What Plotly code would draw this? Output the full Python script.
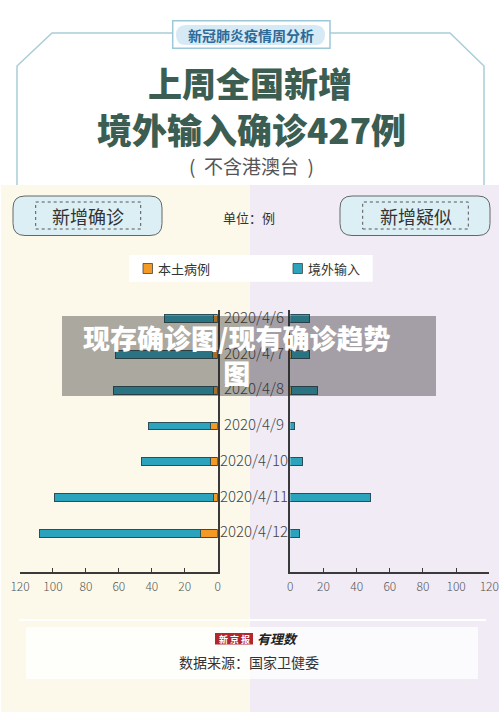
import plotly.graph_objects as go

# ---------------- data ----------------
dates = ["2020/4/6", "2020/4/7", "2020/4/8", "2020/4/9", "2020/4/10", "2020/4/11", "2020/4/12"]
confirmed_local = [2, 3, 2, 4, 4, 2, 10]
confirmed_imported = [30, 59, 61, 38, 42, 97, 98]
suspected_local = [0, 1, 1, 0, 0, 0, 0]
suspected_imported = [12, 11, 16, 3, 8, 49, 6]
tick_values = [0, 20, 40, 60, 80, 100, 120]
series_names = ["本土病例", "境外输入"]

W, H = 500, 712
CJK = "Noto Sans CJK SC"
ORANGE = "#f39a26"
TEAL = "#2ba3bc"
OUTLINE = "#2a4f58"


def px(x):
    return x / W


def py(y):
    return 1 - y / H


rows = list(range(len(dates)))

fig = go.Figure()

# left: confirmed (reversed axis)
fig.add_trace(go.Bar(y=rows, x=confirmed_local, orientation="h", name=series_names[0],
                     marker=dict(color=ORANGE, line=dict(color=OUTLINE, width=1)),
                     width=0.22, xaxis="x", yaxis="y", showlegend=False, hoverinfo="skip"))
fig.add_trace(go.Bar(y=rows, x=confirmed_imported, orientation="h", name=series_names[1],
                     marker=dict(color=TEAL, line=dict(color=OUTLINE, width=1)),
                     width=0.22, xaxis="x", yaxis="y", showlegend=False, hoverinfo="skip"))
# right: suspected
fig.add_trace(go.Bar(y=rows, x=suspected_local, orientation="h", name=series_names[0],
                     marker=dict(color=ORANGE, line=dict(color=OUTLINE, width=1)),
                     width=0.22, xaxis="x2", yaxis="y2", showlegend=False, hoverinfo="skip"))
fig.add_trace(go.Bar(y=rows, x=suspected_imported, orientation="h", name=series_names[1],
                     marker=dict(color=TEAL, line=dict(color=OUTLINE, width=1)),
                     width=0.22, xaxis="x2", yaxis="y2", showlegend=False, hoverinfo="skip"))
# date labels (central column)
fig.add_trace(go.Scatter(x=[0] * len(dates), y=rows, text=dates, mode="text",
                         textposition="middle center", cliponaxis=False,
                         textfont=dict(family=CJK, size=15, color="#444444", weight=300),
                         xaxis="x3", yaxis="y", showlegend=False, hoverinfo="skip"))

yrange = [7.06, -0.26]
ydom = [py(571.5), py(310)]
axis_common = dict(showgrid=False, zeroline=False, showline=True, linecolor="#3a3a3a", linewidth=1.5,
                   ticks="inside", ticklen=4, tickwidth=1.2, tickcolor="#3a3a3a",
                   tickvals=tick_values, ticklabelstandoff=3, automargin=False,
                   tickfont=dict(family=CJK, size=12, color="#555555", weight=300), fixedrange=True)

fig.update_layout(
    template="none",
    width=W, height=H, margin=dict(l=0, r=0, t=0, b=0, pad=0, autoexpand=False),
    paper_bgcolor="white", plot_bgcolor="rgba(0,0,0,0)",
    barmode="stack", bargap=0, showlegend=False,
    xaxis=dict(domain=[px(20), px(217.7)], range=[120, 0], anchor="y", **axis_common),
    xaxis2=dict(domain=[px(290.3), px(489.3)], range=[0, 120], anchor="y2", **axis_common),
    xaxis3=dict(domain=[px(218), px(290)], range=[-1, 1], anchor="y", visible=False, automargin=False),
    yaxis=dict(domain=ydom, range=yrange, anchor="x", side="right", showline=True,
               linecolor="#3a3a3a", linewidth=1.5, showticklabels=False, ticks="",
               showgrid=False, zeroline=False, fixedrange=True, automargin=False),
    yaxis2=dict(domain=ydom, range=yrange, anchor="x2", side="left", showline=True,
                linecolor="#3a3a3a", linewidth=1.5, showticklabels=False, ticks="",
                showgrid=False, zeroline=False, fixedrange=True, automargin=False),
)

shapes = []
ann = []


def text(x, y, s, size, color, weight=400, xanchor="center", family=CJK):
    ann.append(dict(x=px(x), y=py(y), xref="paper", yref="paper", text=s, showarrow=False,
                    xanchor=xanchor, yanchor="middle", align="center",
                    font=dict(family=family, size=size, color=color, weight=weight)))


# backgrounds
shapes.append(dict(type="rect", xref="paper", yref="paper", x0=px(1), x1=px(250), y0=py(712), y1=py(185),
                   fillcolor="#fcf9eb", line=dict(width=0), layer="below"))
shapes.append(dict(type="rect", xref="paper", yref="paper", x0=px(250), x1=px(499), y0=py(712), y1=py(185),
                   fillcolor="#f0ebf5", line=dict(width=0), layer="below"))

# header frame
frame_col = "#a9cdd9"
left_path = f"M {px(17)} {py(185)} L {px(17)} {py(66)} L {px(52)} {py(33)} L {px(172.7)} {py(33)}"
right_path = f"M {px(330)} {py(33)} L {px(450)} {py(33)} L {px(484)} {py(66)} L {px(484)} {py(185)}"
for p in (left_path, right_path):
    shapes.append(dict(type="path", xref="paper", yref="paper", path=p,
                       line=dict(color=frame_col, width=1.5), layer="below"))
shapes.append(dict(type="rect", xref="paper", yref="paper", x0=px(172.7), x1=px(330), y0=py(48.3), y1=py(20.7),
                   fillcolor="white", line=dict(color="#9cc8d8", width=1.5), layer="below"))


def rounded(x0, y0, x1, y1, r):
    X0, X1 = px(x0), px(x1)
    rx, ry = r / W, r / H
    Y0, Y1 = py(y1), py(y0)  # Y0 bottom, Y1 top
    return (f"M {X0+rx} {Y1} L {X1-rx} {Y1} Q {X1} {Y1} {X1} {Y1-ry} L {X1} {Y0+ry} "
            f"Q {X1} {Y0} {X1-rx} {Y0} L {X0+rx} {Y0} Q {X0} {Y0} {X0} {Y0+ry} "
            f"L {X0} {Y1-ry} Q {X0} {Y1} {X0+rx} {Y1} Z")


shapes.append(dict(type="path", xref="paper", yref="paper", path=rounded(176, 25, 325, 45, 10),
                   fillcolor="#d6eaf5", line=dict(width=0), layer="below"))
text(251, 35, "新冠肺炎疫情周分析", 14, "#2c6a9a", 700)

# title
text(250, 82, "上周全国新增", 34, "#3b5d52", 900)
text(251, 128, "境外输入确诊427例", 35, "#3b5d52", 900)
text(251, 165, "(  不含港澳台  )", 19, "#555555", 400)

# panel pills
for (x0, x1, dx0, dx1, cx, label) in [(13, 162, 35.7, 140.7, 88, "新增确诊"),
                                       (340, 490, 362.7, 468.3, 415.5, "新增疑似")]:
    shapes.append(dict(type="path", xref="paper", yref="paper", path=rounded(x0, 196, x1, 235.5, 12),
                       fillcolor="#dceff5", line=dict(color="#666666", width=1), layer="below"))
    shapes.append(dict(type="rect", xref="paper", yref="paper", x0=px(dx0), x1=px(dx1), y0=py(229), y1=py(202),
                       line=dict(color="#555555", width=1, dash="dot"), layer="below"))
    text(cx, 215.5, label, 18, "#333333", 400)

text(249, 217, "单位：例", 13, "#333333")

# legend
shapes.append(dict(type="rect", xref="paper", yref="paper", x0=px(129), x1=px(372.7), y0=py(281.7), y1=py(255),
                   fillcolor="white", line=dict(width=0), layer="below"))
for (sx, col, tx, name) in [(143, ORANGE, 156, series_names[0]), (293, TEAL, 306, series_names[1])]:
    shapes.append(dict(type="rect", xref="paper", yref="paper", x0=px(sx), x1=px(sx + 9.5), y0=py(273.5), y1=py(263.5),
                       fillcolor=col, line=dict(color="#444444", width=0.8), layer="below"))
    text(tx, 268.5, name, 13, "#333333", 400, xanchor="left")

# bottom source block
shapes.append(dict(type="line", xref="paper", yref="paper", x0=px(19), x1=px(486), y0=py(620), y1=py(620),
                   line=dict(color="white", width=2), layer="below"))
shapes.append(dict(type="rect", xref="paper", yref="paper", x0=px(26), x1=px(478), y0=py(679), y1=py(627),
                   fillcolor="rgba(255,255,255,0.75)", line=dict(width=0), layer="below"))
shapes.append(dict(type="rect", xref="paper", yref="paper", x0=px(215), x1=px(253), y0=py(644.5), y1=py(633),
                   fillcolor="#b3262c", line=dict(width=0), layer="below"))
text(234, 639, "新 京 报", 9, "white", 700)
text(255, 638, "<i>有理数</i>", 13, "#222222", 700, xanchor="left")
text(249, 662, "数据来源：国家卫健委", 14, "#333333")

# watermark overlay
shapes.append(dict(type="rect", xref="paper", yref="paper", x0=px(62), x1=px(436), y0=py(396), y1=py(316),
                   fillcolor="rgba(40,38,36,0.38)", line=dict(width=0), layer="above"))
text(236, 355, "现存确诊图/现有确诊趋势<br>图", 27, "white", 900)

fig.update_layout(shapes=shapes, annotations=ann)
fig.write_html("out.html", config={"displayModeBar": False},
               post_script="document.body.style.margin='0';document.body.style.overflow='hidden';")
